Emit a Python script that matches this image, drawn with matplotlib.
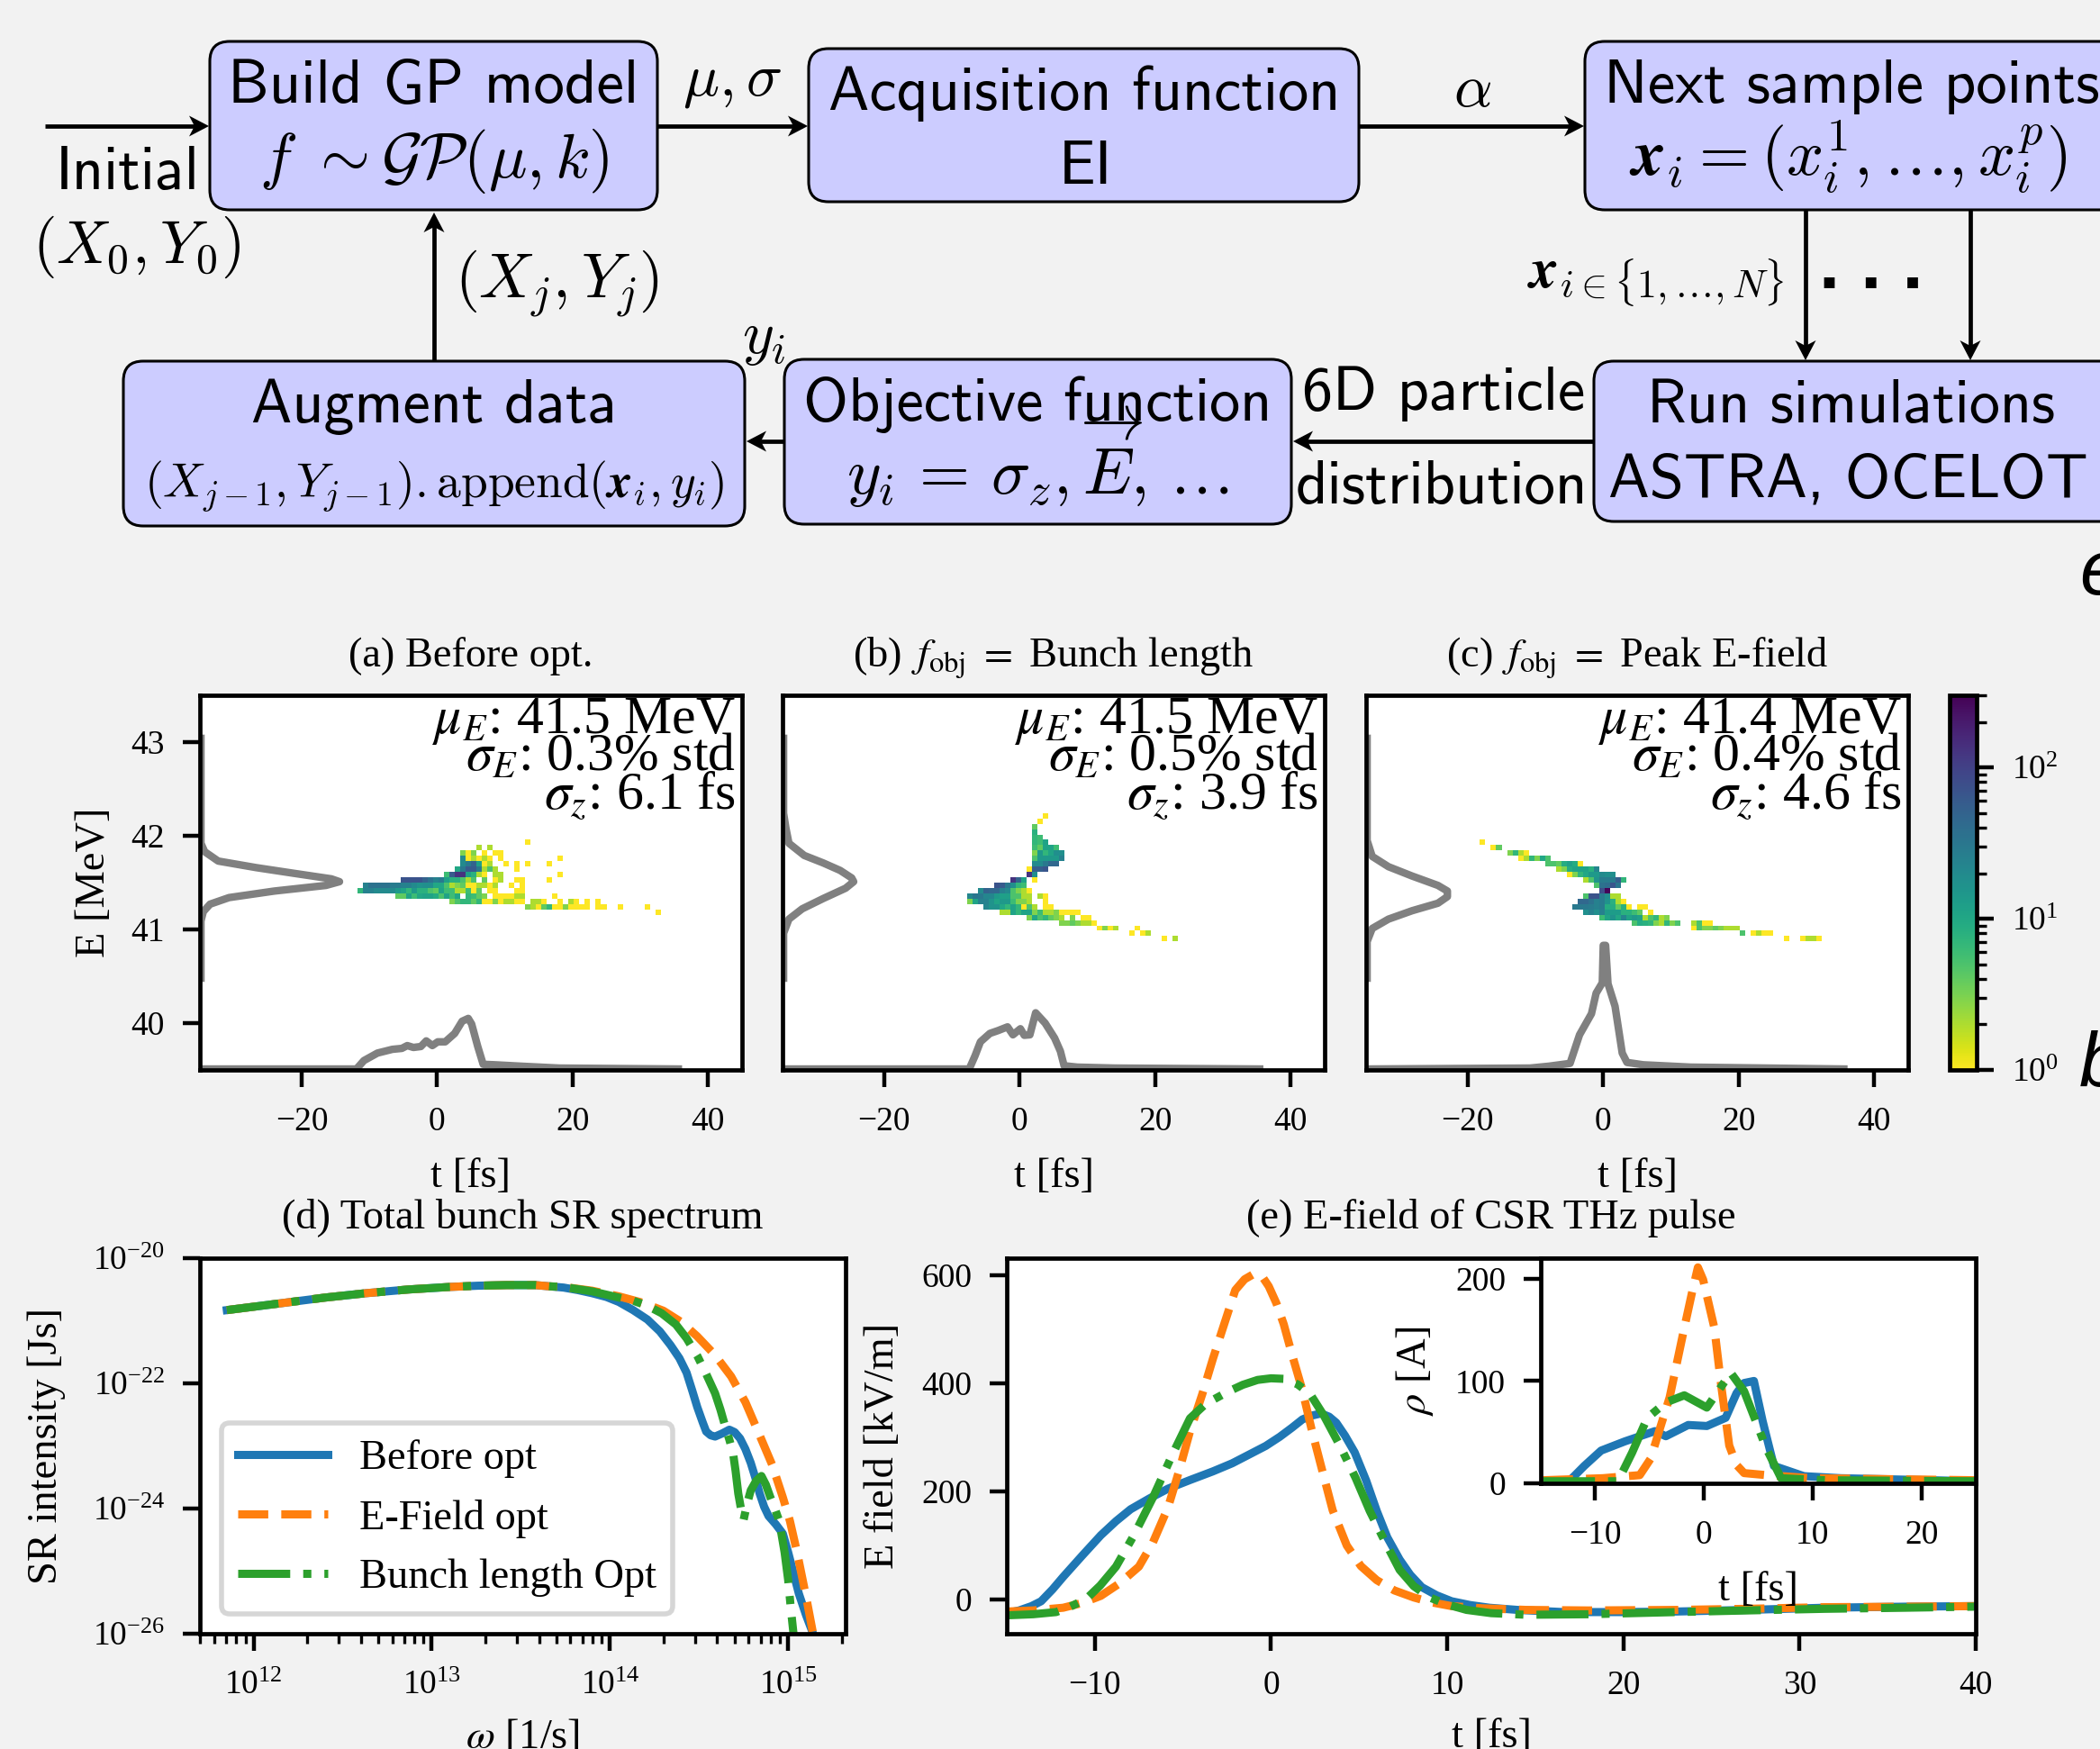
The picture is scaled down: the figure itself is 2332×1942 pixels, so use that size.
#!/usr/bin/env python3
"""Bayesian optimisation flow chart above beam phase spaces, SR spectra and CSR pulses."""

import matplotlib
matplotlib.use("Agg")
import matplotlib.pyplot as plt
import numpy as np
from matplotlib.colors import LogNorm
from matplotlib.patches import FancyBboxPatch, Polygon
from matplotlib.ticker import NullLocator

FIG_W, FIG_H = 2332, 1942
BG = "#f2f2f2"
FONT = 33.4
TICK = 27

plt.rcParams["font.family"] = ["Liberation Serif", "DejaVu Serif"]
plt.rcParams["mathtext.fontset"] = "stix"
plt.rcParams["axes.linewidth"] = 3.4
plt.rcParams["xtick.major.size"] = 14
plt.rcParams["ytick.major.size"] = 14
plt.rcParams["xtick.major.width"] = 3.2
plt.rcParams["ytick.major.width"] = 3.2
plt.rcParams["xtick.minor.size"] = 8
plt.rcParams["ytick.minor.size"] = 8
plt.rcParams["xtick.minor.width"] = 2.4
plt.rcParams["ytick.minor.width"] = 2.4
plt.rcParams["xtick.major.pad"] = 15.5
plt.rcParams["ytick.major.pad"] = 14
plt.rcParams["xtick.labelsize"] = TICK
plt.rcParams["ytick.labelsize"] = TICK
plt.rcParams["axes.labelsize"] = FONT
plt.rcParams["axes.titlesize"] = FONT

# Flow chart boxes: left, top, right, bottom in reference pixels
BOXES = [
    (233, 46, 730, 233),
    (898, 54, 1509, 224),
    (1760, 46, 2400, 233),
    (137, 401, 827, 584),
    (871, 399, 1434, 582),
    (1770, 401, 2400, 579),
]

# Flow chart arrows: tail x, tail y, tip x, tip y
ARROWS = [
    (50, 140, 232, 140),
    (730, 140, 897, 140),
    (1509, 140, 1759, 140),
    (482, 401, 482, 236),
    (1770, 490, 1436, 490),
    (871, 490, 829, 490),
    (2005, 233, 2005, 400),
    (2188, 233, 2188, 400),
]

# Flow chart labels: centre x, baseline y, text, size
SANS_LABELS = [
    (481, 114, "Build GP model", 49.5),
    (142, 210, "Initial", 49),
    (1204, 122, "Acquisition function", 49),
    (1205, 204, "EI", 49),
    (2056, 114, "Next sample points", 49.5),
    (482, 469, "Augment data", 49),
    (1152, 467, "Objective function", 49),
    (1603, 455, "6D particle", 49),
    (1601, 559, "distribution", 49.5),
    (2056, 469, "Run simulations", 49),
    (2052, 551, "ASTRA, OCELOT", 49.5),
]
MATH_LABELS = [
    (482, 197, r"$f\ \sim\mathcal{G}\mathcal{P}(\mu,k)$", 51),
    (152, 292, r"$(X_0,Y_0)$", 49),
    (813, 105, r"$\mu,\sigma$", 48),
    (1635, 118, r"$\alpha$", 48),
    (2052, 196, r"$\boldsymbol{x}_i=(x_i^1,\ldots,x_i^p)$", 52),
    (1838, 320, r"$\boldsymbol{x}_{i\in\{1,\ldots,N\}}$", 45),
    (619, 332, r"$(X_j,Y_j)$", 50),
    (848, 392, r"$y_i$", 48),
    (482, 551, r"$(X_{j-1},Y_{j-1}).\mathrm{append}(\boldsymbol{x}_i,y_i)$", 38.5),
    (1152, 549, r"$y_i\,=\,\sigma_z,\overrightarrow{E},\,\ldots$", 52),
]

# Phase space histograms, 100 x 70 bins: energy bin, first time bin, counts
T_BINS = 100
E_BINS = 70
HIST_A = [
    (42, 60, [1]),
    (41, 51, [2, 0, 2]),
    (40, 48, [3, 1, 3, 0, 1, 0, 1, 1]),
    (39, 48, [20, 1, 2, 1, 2, 1, 0, 1]),
    (39, 66, [1]),
    (38, 48, [20, 30, 50, 12, 1, 2, 0, 0, 1, 0, 1, 0, 1]),
    (38, 64, [1]),
    (37, 47, [10, 30, 60, 60, 30, 2, 5, 2, 0, 0, 0, 1]),
    (36, 45, [6, 60, 130, 130, 12, 8, 2, 1, 0, 2, 2]),
    (36, 66, [1]),
    (35, 37, [70, 70, 70, 70, 50, 35, 25, 30, 12, 8, 8, 5, 2, 5, 0, 4, 0, 1, 2, 0, 0, 1, 1]),
    (35, 64, [1]),
    (34, 30, [25, 35, 35, 35, 35, 28, 28, 25, 25, 20, 16, 18, 18, 10, 10, 5, 2, 3, 4, 1, 1, 2, 2,
              1, 2, 0, 0, 1, 0, 1]),
    (33, 29, [7, 25, 25, 20, 20, 20, 20, 14, 11, 7, 14, 8, 8, 5, 4, 11, 6, 6, 2, 2, 6, 1, 4, 0,
              1, 1, 0, 0, 0, 1, 1]),
    (32, 36, [4, 4, 11, 6, 10, 11, 11, 9, 5, 11, 6, 10, 0, 7, 6, 4, 3, 0, 1, 1, 1, 1, 2, 2]),
    (32, 65, [1]),
    (31, 46, [3, 5, 7, 7, 4, 7, 1, 1, 3, 1, 2, 2, 1, 1, 0, 2, 2, 1, 0, 0, 1, 0, 2, 1, 0, 1, 0, 1]),
    (30, 60, [3, 2, 1, 4, 7, 1, 1, 3, 1, 1, 1, 1, 0, 1, 1, 0, 0, 1, 0, 0, 0, 0, 1]),
    (29, 84, [1]),
]
HIST_B = [
    (47, 48, [1]),
    (46, 47, [1]),
    (45, 46, [4]),
    (44, 46, [8]),
    (43, 46, [7, 6]),
    (42, 46, [7, 6, 11]),
    (41, 46, [6, 4, 11, 11, 6]),
    (40, 46, [3, 14, 7, 11, 18, 18]),
    (39, 46, [5, 14, 14, 14, 14, 25]),
    (38, 46, [20, 20, 30, 45, 45]),
    (37, 45, [1, 55, 55, 65]),
    (36, 45, [130, 18]),
    (35, 42, [130, 50, 11, 0, 1]),
    (34, 39, [70, 60, 30, 18, 7, 6]),
    (33, 36, [20, 50, 45, 45, 25, 20, 5, 3, 2, 1]),
    (32, 34, [22, 32, 30, 22, 22, 14, 12, 12, 5, 5, 2, 2, 0, 2, 1]),
    (31, 34, [3, 11, 25, 25, 16, 11, 14, 14, 6, 3, 3, 2, 0, 0, 1]),
    (30, 37, [22, 16, 16, 10, 7, 11, 7, 1, 5, 2, 0, 1, 1]),
    (29, 40, [2, 2, 11, 7, 11, 11, 3, 6, 2, 2, 3, 1, 1, 1, 1]),
    (28, 45, [3, 10, 5, 7, 4, 3, 2, 0, 3, 0, 1, 1]),
    (27, 51, [3, 3, 4, 3, 2, 2, 1]),
    (26, 58, [1, 3, 1, 2]),
    (26, 65, [1]),
    (25, 64, [1, 0, 1, 2]),
    (24, 70, [1, 0, 2]),
]
HIST_C = [
    (42, 21, [1]),
    (41, 23, [1, 4]),
    (40, 26, [3, 7, 2, 1]),
    (39, 28, [1, 2, 7, 3, 10, 5]),
    (38, 33, [5, 5, 4, 9, 12, 9, 1]),
    (37, 35, [2, 3, 9, 11, 11, 11, 8, 22]),
    (36, 37, [1, 3, 7, 10, 14, 14, 20, 18, 18]),
    (35, 40, [2, 5, 16, 28, 28, 28, 55, 7]),
    (34, 42, [5, 35, 40, 65, 32]),
    (33, 43, [80, 280]),
    (32, 40, [5, 70, 70, 28, 18, 2, 2]),
    (31, 39, [45, 45, 35, 25, 28, 16, 8, 2, 1]),
    (30, 38, [30, 30, 30, 28, 25, 28, 9, 9, 4, 8, 1, 0, 1, 1]),
    (29, 40, [18, 25, 18, 25, 13, 13, 13, 8, 8, 6, 4, 0, 1]),
    (28, 43, [6, 11, 16, 10, 22, 11, 14, 12, 2, 5, 7, 2, 3]),
    (27, 49, [5, 9, 8, 7, 3, 2, 7, 3, 5, 0, 0, 2, 5, 1, 1]),
    (26, 60, [1, 5, 3, 3, 4, 3, 2, 2, 2]),
    (25, 69, [5, 0, 1, 2, 1, 1]),
    (24, 77, [1, 0, 0, 1, 2, 2, 1]),
]

# Grey projections on the energy axis and on the time axis
SIDE_A_T = [-34.85, -34.85, -34.3, -32.3, -26.7, -21.2, -15.6, -14.4, -16.4, -24.0, -30.7, -33.5, -34.5, -34.85, -34.85]
SIDE_A_E = [43.04, 41.92, 41.83, 41.73, 41.66, 41.60, 41.54, 41.51, 41.47, 41.41, 41.34, 41.27, 41.19, 41.09, 40.48]
PROF_A_T = [-34.6, -11.9, -10.8, -8.8, -6.6, -5.2, -4.4, -3.5, -2.4, -1.6, -0.7, 0.1, 1.2, 2.6, 3.7, 4.6, 5.1, 6.0, 6.8, 8.5, 12.4, 18.0, 35.6]
PROF_A_E = [39.51, 39.51, 39.60, 39.68, 39.72, 39.73, 39.76, 39.74, 39.75, 39.81, 39.76, 39.80, 39.80, 39.89, 40.02, 40.05, 39.99, 39.75, 39.56, 39.555, 39.54, 39.52, 39.51]

SIDE_B_T = [-34.85, -34.85, -34.5, -34.06, -31.8, -29.0, -26.5, -24.8, -24.5, -25.7, -29.0, -32.1, -34.06, -34.85, -34.85]
SIDE_B_E = [43.04, 42.24, 42.08, 41.92, 41.79, 41.71, 41.63, 41.55, 41.51, 41.44, 41.33, 41.22, 41.11, 40.96, 40.48]
PROF_B_T = [-34.6, -7.45, -6.6, -5.8, -4.4, -3.2, -1.8, -1.0, 0.1, 0.67, 1.5, 2.35, 3.75, 5.15, 6.0, 6.55, 8.5, 14.0, 35.4]
PROF_B_E = [39.51, 39.51, 39.65, 39.80, 39.89, 39.92, 39.96, 39.875, 39.94, 39.87, 39.875, 40.11, 40.0, 39.84, 39.70, 39.545, 39.53, 39.52, 39.51]

SIDE_C_T = [-34.85, -34.85, -34.1, -31.7, -28.2, -24.4, -23.0, -23.0, -24.4, -28.2, -31.7, -34.1, -34.85, -34.85]
SIDE_C_E = [43.04, 41.95, 41.78, 41.67, 41.57, 41.47, 41.41, 41.35, 41.28, 41.20, 41.11, 41.01, 40.87, 40.48]
PROF_C_T = [-34.6, -10.8, -8.0, -4.9, -3.5, -1.74, -1.05, -0.14, 0.0, 0.35, 0.7, 1.74, 2.8, 3.5, 5.9, 12.9, 35.5]
PROF_C_E = [39.51, 39.52, 39.54, 39.57, 39.875, 40.10, 40.32, 40.43, 40.83, 40.83, 40.42, 40.18, 39.68, 39.58, 39.555, 39.53, 39.51]

PANEL_TITLES = [
    "(a) Before opt.",
    r"(b) $\,f_{\mathrm{obj}}\ =\ $Bunch length",
    r"(c) $\,f_{\mathrm{obj}}\ =\ $Peak E-field",
]
PANEL_STATS = [
    [r"$\mu_E$: 41.5 MeV", r"$\sigma_E$: 0.3% std", r"$\sigma_z$: 6.1 fs"],
    [r"$\mu_E$: 41.5 MeV", r"$\sigma_E$: 0.5% std", r"$\sigma_z$: 3.9 fs"],
    [r"$\mu_E$: 41.4 MeV", r"$\sigma_E$: 0.4% std", r"$\sigma_z$: 4.6 fs"],
]

# SR spectrum, log10 of omega and log10 of intensity
LOG_W_LOW = [11.85, 12.155, 12.4, 12.63, 12.87, 13.10, 13.26, 13.42, 13.58, 13.66]
LOG_I_LOW = [-20.83, -20.72, -20.63, -20.56, -20.50, -20.46, -20.44, -20.43, -20.43, -20.45]
LOG_W_BEFORE = [13.74, 13.82, 13.90, 13.98, 14.05, 14.13, 14.21, 14.28, 14.34, 14.39, 14.43, 14.46, 14.49, 14.52, 14.54,
                14.565, 14.59, 14.63, 14.67, 14.70, 14.73, 14.76, 14.79, 14.815, 14.84, 14.865, 14.89, 14.93, 14.97,
                15.0, 15.02, 15.06, 15.10, 15.14]
LOG_I_BEFORE = [-20.47, -20.51, -20.56, -20.62, -20.70, -20.83, -20.98, -21.17, -21.39, -21.6, -21.83, -22.1, -22.38,
                -22.62, -22.77, -22.83, -22.85, -22.80, -22.74, -22.78, -22.88, -23.05, -23.27, -23.5, -23.76, -23.97,
                -24.12, -24.25, -24.40, -24.7, -24.92, -25.36, -25.7, -26.0]
LOG_W_EFIELD = [13.74, 13.9, 14.05, 14.18, 14.30, 14.40, 14.49, 14.59, 14.68, 14.76, 14.84, 14.91, 14.97, 15.01, 15.05,
                15.10, 15.14]
LOG_I_EFIELD = [-20.46, -20.52, -20.61, -20.71, -20.84, -21.02, -21.25, -21.55, -21.89, -22.3, -22.83, -23.3, -23.82,
                -24.2, -24.7, -25.4, -26.0]
LOG_W_BUNCH = [13.74, 13.9, 14.05, 14.13, 14.21, 14.29, 14.37, 14.43, 14.49, 14.54, 14.59, 14.62, 14.65, 14.67, 14.69,
               14.705, 14.72, 14.735, 14.75, 14.77, 14.79, 14.82, 14.85, 14.875, 14.90, 14.925, 14.95, 14.98, 15.0,
               15.015, 15.03]
LOG_I_BUNCH = [-20.46, -20.53, -20.63, -20.68, -20.76, -20.88, -21.06, -21.28, -21.56, -21.85, -22.16, -22.42, -22.72,
               -22.9, -23.1, -23.4, -23.76, -24.0, -24.18, -23.92, -23.71, -23.56, -23.48, -23.62, -23.82, -24.0,
               -24.2, -24.7, -25.14, -25.6, -26.0]

# CSR pulse E-field
T_BEFORE = [-15, -14.3, -13.6, -13.05, -12.4, -11.8, -10.7, -9.66, -8.8, -7.97, -6.9, -5.85, -4.6, -3.3, -2.2, -1.19,
            -0.3, 0.5, 1.2, 1.78, 2.3, 2.84, 3.3, 3.7, 4.2, 4.75, 5.4, 6.0, 6.6, 7.3, 7.9, 8.56, 9.4, 10.25, 11.3,
            12.4, 14, 16.6, 20, 23, 27, 31.4, 36, 39.9]
F_BEFORE = [-25, -20, -12, -3, 19, 42, 82, 119, 145, 167, 187, 205, 221, 237, 252, 269, 284, 301, 318, 333, 340, 344,
            338, 327, 303, 272, 220, 164, 115, 74, 46, 23, 8, -3, -10, -15, -19, -23, -23, -22, -19, -15, -13, -12]
T_EFIELD = [-15, -13.5, -11.8, -10.7, -9.66, -8.6, -7.5, -6.7, -5.85, -5.2, -4.6, -3.9, -3.3, -2.6, -2.03, -1.5, -0.97,
            -0.5, -0.13, 0.3, 0.72, 1.2, 1.78, 2.3, 2.84, 3.5, 4.3, 5.1, 6.0, 7, 8.1, 9.1, 10.25, 12, 14.5, 18, 23, 27,
            31.4, 36, 39.9]
F_EFIELD = [-22, -20, -15, -6, 7, 30, 61, 106, 170, 240, 311, 380, 445, 515, 572, 592, 602, 597, 579, 548, 509, 452,
            387, 315, 247, 165, 100, 62, 36, 17, 4, -5, -12, -16, -19, -20, -19, -17, -14, -13, -12]
T_BUNCH = [-15, -13.5, -12.2, -11.4, -10.5, -9.7, -8.8, -7.8, -6.7, -5.6, -4.6, -3.7, -2.46, -1.6, -0.76, 0, 0.72, 1.5,
           2.2, 3, 3.9, 4.8, 5.6, 6.5, 7.3, 8.1, 9, 10, 11.1, 12.5, 14.5, 18, 23, 27, 31.4, 36, 39.9]
F_BUNCH = [-29, -27, -23, -13, 1, 26, 61, 118, 189, 268, 335, 362, 384, 397, 406, 409, 408, 398, 381, 340, 285, 225,
           164, 105, 55, 25, 4, -9, -19, -25, -28, -27, -23, -20, -17, -15, -13]

# Current profile inset
TI_BEFORE = [-14.8, -12.4, -11.0, -9.45, -7.26, -4.5, -3.5, -1.44, 0.27, 2.0, 3.0, 3.7, 4.6, 5.4, 6.44, 9.2, 12.6, 25]
RHO_BEFORE = [0, 2, 17, 32, 41, 51, 46, 57, 56, 64, 88, 98, 100, 61, 17, 7, 5, 2]
TI_EFIELD = [-14.8, -9.3, -5.9, -4.9, -4.0, -3.15, -1.8, -1.1, -0.55, -0.07, 0.96, 1.6, 2.33, 3.0, 3.7, 5.75, 9.9, 25]
RHO_EFIELD = [3, 5, 8, 24, 55, 84, 152, 186, 211, 199, 152, 95, 37, 18, 10, 8, 5, 3]
TI_BUNCH = [-14.8, -7.9, -6.6, -5.2, -3.5, -1.8, 0.27, 2.47, 3.7, 5.75, 7.1, 11.2, 25]
RHO_BUNCH = [2, 2, 30, 64, 79, 86, 74, 108, 90, 34, 5, 3, 2]

SERIES_NAMES = ["Before opt", "E-Field opt", "Bunch length Opt"]
SERIES_COLORS = ["#1f77b4", "#ff7f0e", "#2ca02c"]
SERIES_STYLES = ["-", "--", "-."]
LINE_W = 6.5


def px_axes(fig, left, top, right, bottom):
    """Add axes given by the reference pixel box."""
    return fig.add_axes([left / FIG_W, 1 - bottom / FIG_H, (right - left) / FIG_W, (bottom - top) / FIG_H])


def draw_arrow(ax, x0, y0, x1, y1):
    """Line with a notched stealth head."""
    dx, dy = x1 - x0, y1 - y0
    norm = np.hypot(dx, dy)
    ux, uy = dx / norm, dy / norm
    length, half, notch = 22, 11.5, 6
    ax.plot([x0, x1 - ux * notch], [y0, y1 - uy * notch], color="black", lw=3.4, solid_capstyle="butt")
    head = [
        (x1, y1),
        (x1 - ux * length - uy * half, y1 - uy * length + ux * half),
        (x1 - ux * (length - notch), y1 - uy * (length - notch)),
        (x1 - ux * length + uy * half, y1 - uy * length - ux * half),
    ]
    ax.add_patch(Polygon(head, closed=True, facecolor="black", edgecolor="none"))


def draw_flow(fig):
    """Top flow chart in pixel coordinates."""
    ax = fig.add_axes([0, 0, 1, 1])
    ax.set_xlim(0, FIG_W)
    ax.set_ylim(FIG_H, 0)
    ax.axis("off")
    for left, top, right, bottom in BOXES:
        ax.add_patch(FancyBboxPatch((left, top), right - left, bottom - top,
                                    boxstyle="round,pad=0,rounding_size=22",
                                    facecolor="#ccccff", edgecolor="black", lw=2.2, clip_on=True))
    for arrow in ARROWS:
        draw_arrow(ax, *arrow)
    for x, y, text, size in SANS_LABELS:
        ax.text(x, y, text, family="cmss10", fontsize=size, ha="center", va="baseline")
    for x, y, text, size in MATH_LABELS:
        ax.text(x, y, text, math_fontfamily="cm", fontsize=size, ha="center", va="baseline")
    # The three heavy dots between the two simulation arrows
    ax.text(2078, 320, ". . .", family="Liberation Sans", weight="bold", fontsize=60, ha="center", va="baseline")
    # Letters cut off at the right edge of the picture
    ax.text(2309, 660, "e", family="Liberation Sans", style="italic", fontsize=61, va="baseline")
    ax.text(2309, 1206, "b", family="Liberation Sans", style="italic", fontsize=61, va="baseline")


def bins_to_grid(rows):
    """Fill a masked 2D histogram from the per-row count lists."""
    grid = np.zeros((E_BINS, T_BINS))
    for e_bin, t_start, counts in rows:
        for i, count in enumerate(counts):
            grid[e_bin, t_start + i] = count
    return np.ma.masked_equal(grid, 0)


def draw_phase_space(fig, box, hist, side, prof, title, stats, norm):
    """One longitudinal phase space panel."""
    ax = px_axes(fig, *box)
    t_edges = np.linspace(-35, 45, T_BINS + 1)
    e_edges = np.linspace(39.5, 43.5, E_BINS + 1)
    mesh = ax.pcolormesh(t_edges, e_edges, bins_to_grid(hist), cmap="viridis_r", norm=norm)
    ax.plot(side[0], side[1], color="#808080", lw=6)
    ax.plot(prof[0], prof[1], color="#808080", lw=6)
    ax.set_xlim(-35, 45)
    ax.set_ylim(39.5, 43.5)
    ax.set_xticks([-20, 0, 20, 40])
    ax.set_xlabel("t [fs]", labelpad=16)
    ax.set_title(title, pad=23)
    for y, text in zip([0.899, 0.798, 0.697], stats):
        ax.text(0.988, y, text, transform=ax.transAxes, fontsize=43, ha="right", va="baseline")
    return ax, mesh


def draw_spectrum(fig):
    """Panel d, total bunch SR spectrum."""
    ax = px_axes(fig, 222, 1397, 939, 1814)
    curves = [
        (LOG_W_LOW + LOG_W_BEFORE, LOG_I_LOW + LOG_I_BEFORE),
        (LOG_W_LOW + LOG_W_EFIELD, LOG_I_LOW + LOG_I_EFIELD),
        (LOG_W_LOW + LOG_W_BUNCH, LOG_I_LOW + LOG_I_BUNCH),
    ]
    for (log_w, log_i), name, color, style in zip(curves, SERIES_NAMES, SERIES_COLORS, SERIES_STYLES):
        ax.loglog(10.0 ** np.array(log_w), 10.0 ** np.array(log_i), color=color, ls=style, lw=LINE_W, label=name)
    ax.set_xlim(5e11, 2.1e15)
    ax.set_ylim(1e-26, 1e-20)
    ax.set_yticks([1e-26, 1e-24, 1e-22, 1e-20])
    ax.yaxis.set_minor_locator(NullLocator())
    ax.set_xlabel(r"$\omega$ [1/s]", labelpad=13)
    ax.set_ylabel("SR intensity [Js]", labelpad=21)
    ax.set_title("(d) Total bunch SR spectrum", pad=24)
    legend = ax.legend(loc="lower left", bbox_to_anchor=(0.033, 0.053), borderaxespad=0,
                       fontsize=FONT, handlelength=2.15, handletextpad=0.75, framealpha=0.8)
    legend.get_frame().set_linewidth(4)


def draw_pulse(fig):
    """Panel e, CSR pulse field with the current profile inset."""
    ax = px_axes(fig, 1118, 1397, 2194, 1814)
    curves = [(T_BEFORE, F_BEFORE), (T_EFIELD, F_EFIELD), (T_BUNCH, F_BUNCH)]
    for (t, field), color, style in zip(curves, SERIES_COLORS, SERIES_STYLES):
        ax.plot(t, field, color=color, ls=style, lw=LINE_W)
    ax.set_xlim(-15, 40)
    ax.set_ylim(-63, 631)
    ax.set_xticks([-10, 0, 10, 20, 30, 40])
    ax.set_yticks([0, 200, 400, 600])
    ax.set_xlabel("t [fs]", labelpad=13)
    ax.set_ylabel("E field [kV/m]", labelpad=15)
    ax.set_title("(e) E-field of CSR THz pulse", pad=24)

    inset = px_axes(fig, 1711, 1397, 2194, 1647)
    curves = [(TI_BEFORE, RHO_BEFORE), (TI_EFIELD, RHO_EFIELD), (TI_BUNCH, RHO_BUNCH)]
    for (t, rho), color, style in zip(curves, SERIES_COLORS, SERIES_STYLES):
        inset.plot(t, rho, color=color, ls=style, lw=LINE_W)
    inset.set_xlim(-15, 25)
    inset.set_ylim(0, 220)
    inset.set_xticks([-10, 0, 10, 20])
    inset.set_yticks([0, 100, 200])
    inset.set_xlabel("t [fs]", labelpad=16)
    inset.set_ylabel(r"$\rho$ [A]", labelpad=16)


def main():
    fig = plt.figure(figsize=(FIG_W / 100, FIG_H / 100), dpi=100, facecolor=BG)
    norm = LogNorm(vmin=1, vmax=300)

    boxes = [(222, 772, 824, 1188), (869, 772, 1471, 1188), (1517, 772, 2119, 1188)]
    hists = [HIST_A, HIST_B, HIST_C]
    sides = [(SIDE_A_T, SIDE_A_E), (SIDE_B_T, SIDE_B_E), (SIDE_C_T, SIDE_C_E)]
    profs = [(PROF_A_T, PROF_A_E), (PROF_B_T, PROF_B_E), (PROF_C_T, PROF_C_E)]
    mesh = None
    for i in range(3):
        ax, mesh = draw_phase_space(fig, boxes[i], hists[i], sides[i], profs[i], PANEL_TITLES[i], PANEL_STATS[i], norm)
        if i == 0:
            ax.set_yticks([40, 41, 42, 43])
            ax.set_ylabel("E [MeV]", labelpad=14)
        else:
            ax.set_yticks([])

    cax = px_axes(fig, 2165, 772, 2195, 1188)
    fig.colorbar(mesh, cax=cax)
    cax.tick_params(which="major", labelsize=TICK)

    draw_spectrum(fig)
    draw_pulse(fig)
    draw_flow(fig)

    fig.savefig("out.png", dpi=100, facecolor=BG)


if __name__ == "__main__":
    main()
